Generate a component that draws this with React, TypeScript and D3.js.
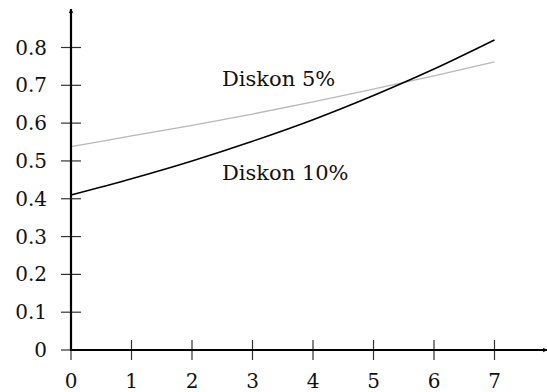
import { useEffect, useRef } from "react"
import * as d3 from "d3"

const years = [0, 1, 2, 3, 4, 5, 6, 7]
const diskon10 = [0.41, 0.453, 0.5, 0.552, 0.609, 0.673, 0.743, 0.82]
const diskon5 = [0.538, 0.566, 0.594, 0.624, 0.656, 0.69, 0.725, 0.762]
const xTicks = [0, 1, 2, 3, 4, 5, 6, 7]
const yTicks = [0, 0.1, 0.2, 0.3, 0.4, 0.5, 0.6, 0.7, 0.8]

export default function App() {
  const svgRef = useRef<SVGSVGElement>(null)

  useEffect(() => {
    const svg = d3.select(svgRef.current)
    svg.selectAll("*").remove()

    const font = "'DejaVu Serif', serif"
    const x = d3.scaleLinear().domain([0, 7]).range([71, 494.5])
    const y = d3.scaleLinear().domain([0, 0.8]).range([350, 47.5])

    const defs = svg.append("defs")
    defs.append("marker")
      .attr("id", "arr")
      .attr("viewBox", "0 0 10 10")
      .attr("refX", 9)
      .attr("refY", 5)
      .attr("markerWidth", 5)
      .attr("markerHeight", 5)
      .attr("markerUnits", "userSpaceOnUse")
      .attr("orient", "auto")
      .append("path")
      .attr("d", "M0,0 Q4,5 0,10 L10,5 Z")
      .attr("fill", "#000")

    // curves
    const line = d3.line<number>()
      .x((_, i) => x(years[i]))
      .y(d => y(d))
      .curve(d3.curveMonotoneX)

    svg.append("path")
      .attr("d", line(diskon5))
      .attr("fill", "none")
      .attr("stroke", "#b8b8b8")
      .attr("stroke-width", 1.3)

    svg.append("path")
      .attr("d", line(diskon10))
      .attr("fill", "none")
      .attr("stroke", "#000")
      .attr("stroke-width", 1.5)

    // ticks
    svg.append("g").selectAll("line")
      .data(yTicks)
      .join("line")
      .attr("x1", 61).attr("x2", 81)
      .attr("y1", d => y(d)).attr("y2", d => y(d))
      .attr("stroke", "#333").attr("stroke-width", 1.2)

    svg.append("g").selectAll("line")
      .data(xTicks)
      .join("line")
      .attr("x1", d => x(d)).attr("x2", d => x(d))
      .attr("y1", 340).attr("y2", 360)
      .attr("stroke", "#333").attr("stroke-width", 1.2)

    // axes
    svg.append("line")
      .attr("x1", 71).attr("x2", 71)
      .attr("y1", 351).attr("y2", 9)
      .attr("stroke", "#000").attr("stroke-width", 2.2)
      .attr("marker-end", "url(#arr)")

    svg.append("line")
      .attr("x1", 70).attr("x2", 547)
      .attr("y1", 350).attr("y2", 350)
      .attr("stroke", "#000").attr("stroke-width", 2.2)
      .attr("marker-end", "url(#arr)")

    // tick labels
    svg.append("g").selectAll("text")
      .data(yTicks)
      .join("text")
      .attr("x", 47)
      .attr("y", d => y(d) + 7)
      .attr("text-anchor", "end")
      .attr("font-family", font)
      .attr("font-size", 20)
      .attr("fill", "#111")
      .text(d => d === 0 ? "0" : d3.format(".1f")(d))

    svg.append("g").selectAll("text")
      .data(xTicks)
      .join("text")
      .attr("x", d => x(d))
      .attr("y", 388)
      .attr("text-anchor", "middle")
      .attr("font-family", font)
      .attr("font-size", 20)
      .attr("fill", "#111")
      .text(d => String(d))

    // labels
    svg.append("text")
      .attr("x", 222).attr("y", 86)
      .attr("font-family", font).attr("font-size", 21)
      .attr("fill", "#111")
      .text("Diskon 5%")

    svg.append("text")
      .attr("x", 222).attr("y", 180)
      .attr("font-family", font).attr("font-size", 21)
      .attr("fill", "#111")
      .text("Diskon 10%")
  }, [])

  return (
    <svg
      ref={svgRef}
      width={547}
      height={392}
      style={{ position: "absolute", left: 0, top: 0, background: "#fff" }}
    />
  )
}
